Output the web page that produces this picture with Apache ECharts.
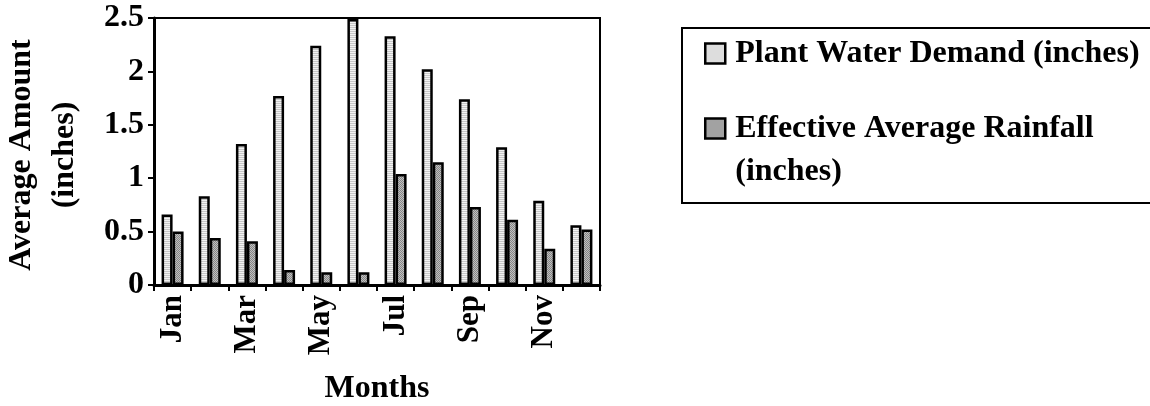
<!DOCTYPE html>
<html>
<head>
<meta charset="utf-8">
<script src="https://cdn.jsdelivr.net/npm/echarts@6/dist/echarts.min.js"></script>
<style>
  html, body { margin: 0; padding: 0; background: #fff; }
  #chart { width: 1150px; height: 406px; }
</style>
</head>
<body>
<div id="chart"></div>
<script>
// data
var months = ['Jan', 'Feb', 'Mar', 'Apr', 'May', 'Jun', 'Jul', 'Aug', 'Sep', 'Oct', 'Nov', 'Dec'];
var demand = [0.66, 0.83, 1.32, 1.77, 2.24, 2.49, 2.33, 2.02, 1.74, 1.29, 0.79, 0.56];
var rainfall = [0.50, 0.44, 0.41, 0.14, 0.12, 0.12, 1.04, 1.15, 0.73, 0.61, 0.34, 0.52];
var yTicks = [0, 0.5, 1, 1.5, 2, 2.5];

var FONT = '"Liberation Serif", "Times New Roman", serif';

// small fill textures like the old printed patterns
function makePattern(c1, c2, checker) {
    var cv = document.createElement('canvas');
    cv.width = 2; cv.height = 2;
    var ctx = cv.getContext('2d');
    ctx.fillStyle = c1;
    ctx.fillRect(0, 0, 2, 2);
    ctx.fillStyle = c2;
    if (checker) {
        ctx.fillRect(0, 0, 1, 1);
        ctx.fillRect(1, 1, 1, 1);
    } else {
        ctx.fillRect(0, 1, 2, 1);
    }
    return { image: cv, repeat: 'repeat' };
}

var chart = echarts.init(document.getElementById('chart'));

var option = {
    animation: false,
    backgroundColor: '#fff',
    textStyle: { fontFamily: FONT, fontWeight: 'bold', color: '#000' },
    grid: {
        left: 154, top: 18, right: 550, bottom: 121,
        outerBoundsMode: 'none',
        show: true, borderColor: '#000', borderWidth: 2
    },
    legend: {
        orient: 'vertical',
        left: 682, top: 28,
        padding: [4, 40, 10, 22],
        borderColor: '#000', borderWidth: 2,
        itemWidth: 20, itemHeight: 20, itemGap: -11,
        icon: 'rect',
        itemStyle: { borderColor: '#000', borderWidth: 2.5 },
        textStyle: {
            fontFamily: FONT, fontWeight: 'bold', fontSize: 32,
            color: '#000', lineHeight: 43, padding: [0, 0, 0, 5]
        },
        formatter: function (name) {
            if (name === 'Effective Average Rainfall (inches)') {
                return '\nEffective Average Rainfall\n(inches)';
            }
            return name;
        },
        data: ['Plant Water Demand (inches)', 'Effective Average Rainfall (inches)']
    },
    xAxis: {
        type: 'category',
        data: months,
        name: 'Months',
        nameLocation: 'middle',
        nameGap: 88,
        nameTextStyle: { fontFamily: FONT, fontWeight: 'bold', fontSize: 32, color: '#000' },
        axisLine: { lineStyle: { color: '#000', width: 3 } },
        axisTick: { show: true, interval: 0, length: 6, lineStyle: { color: '#000', width: 2 } },
        axisLabel: {
            interval: 1, rotate: 90, margin: 10,
            fontFamily: FONT, fontWeight: 'bold', fontSize: 31, color: '#000'
        },
        splitLine: { show: false }
    },
    yAxis: {
        type: 'value',
        min: 0, max: 2.5, interval: 0.5,
        name: 'Average Amount\n(inches)',
        nameLocation: 'middle',
        nameRotate: 90,
        nameGap: 68,
        nameTextStyle: {
            fontFamily: FONT, fontWeight: 'bold', fontSize: 32, color: '#000',
            lineHeight: 43, padding: [0, 7, 0, 0]
        },
        axisLine: { show: true, lineStyle: { color: '#000', width: 3 } },
        axisTick: { show: true, length: 6, lineStyle: { color: '#000', width: 2 } },
        axisLabel: {
            margin: 10,
            fontFamily: FONT, fontWeight: 'bold', fontSize: 32, color: '#000',
            formatter: function (v) { return yTicks.indexOf(v) >= 0 ? String(v) : ''; }
        },
        splitLine: { show: false }
    },
    series: [
        {
            name: 'Plant Water Demand (inches)',
            type: 'bar',
            data: demand,
            barWidth: 11,
            barGap: '0%',
            itemStyle: { color: makePattern('#f2f2f2', '#c8c8c8', false), borderColor: '#000', borderWidth: 2.5 }
        },
        {
            name: 'Effective Average Rainfall (inches)',
            type: 'bar',
            data: rainfall,
            barWidth: 11,
            barGap: '0%',
            itemStyle: { color: makePattern('#c0c0c0', '#858585', true), borderColor: '#000', borderWidth: 2.5 }
        }
    ]
};

chart.setOption(option);
</script>
</body>
</html>
